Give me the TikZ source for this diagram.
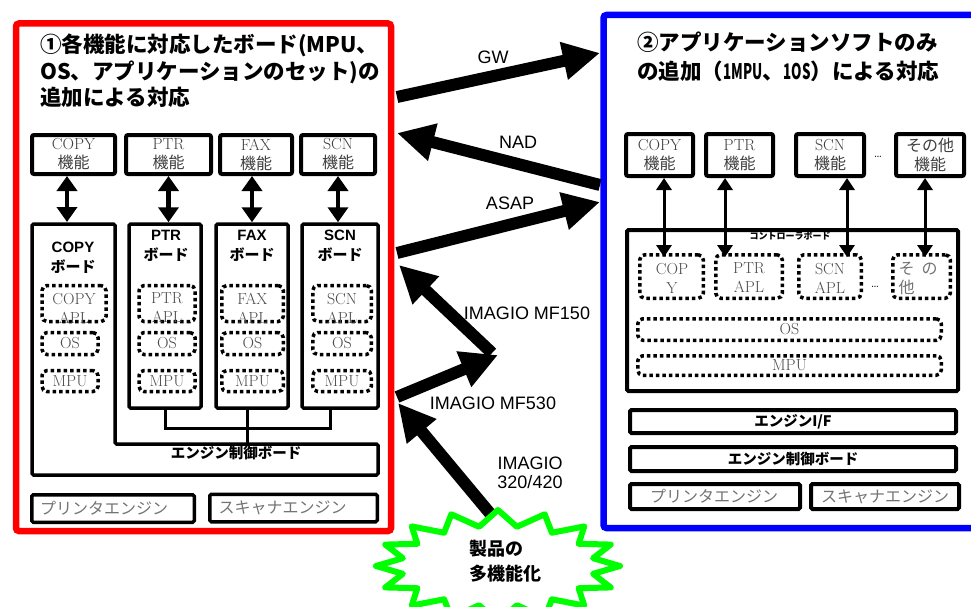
\documentclass[tikz,border=0pt]{standalone}
\usepackage{fontspec}
\usetikzlibrary{arrows.meta,calc}
\newfontfamily\cjk{Noto Sans CJK JP}
\newfontfamily\arial{Liberation Sans}
\definecolor{pred}{RGB}{255,0,0}
\definecolor{pblue}{RGB}{0,0,255}
\definecolor{pgreen}{RGB}{0,255,0}
\newcommand{\hw}[1]{\scalebox{0.62}[1]{#1}}
\tikzset{
  title/.style={inner sep=0pt, anchor=base west, font={\cjk\bfseries\fontsize{21.5}{26}\selectfont}},
  fbox/.style={draw, line width=4pt, rounded corners=2pt, fill=white, inner sep=0pt, align=center,
    text=black!75, font={\fontsize{16}{19}\selectfont}},
  board/.style={draw, line width=3.5pt, rounded corners=1.5pt, inner sep=0pt},
  dotbox/.style={draw, line width=3.5pt, dash pattern=on 3.5pt off 3pt, rounded corners=5pt, inner sep=0pt,
    text=black!70, font={\fontsize{16}{19}\selectfont}},
  sertext/.style={inner sep=0pt, align=center, text=black!70, font={\fontsize{16}{19}\selectfont}},
  engtext/.style={inner sep=0pt, text=black!55, font={\cjk\fontsize{16}{19}\selectfont}},
  blabel/.style={inner sep=0pt, align=center, font={\arial\bfseries\fontsize{15}{20}\selectfont}},
  cjkbold/.style={inner sep=0pt, font={\cjk\bfseries\fontsize{14.5}{18}\selectfont}},
  alabel/.style={inner sep=0pt, align=center, font={\arial\fontsize{18}{19}\selectfont}},
  bigarrow/.style={line width=12pt, -{Triangle[length=37pt,width=36pt]}},
  ldbl/.style={line width=4.5pt, {Triangle[length=15pt,width=20pt]}-{Triangle[length=15pt,width=20pt]}},
  rdbl/.style={line width=3pt, {Triangle[length=12pt,width=15pt]}-{Triangle[length=12pt,width=15pt]}},
  conn/.style={line width=3pt},
}
\begin{document}
\begin{tikzpicture}[x=1pt,y=-1pt]
\useasboundingbox (0,0) rectangle (971,607);
\clip (0,0) rectangle (971,607);

% ---------- panels
\node[draw=pred, line width=6.5pt, rounded corners=3pt, minimum width=375pt, minimum height=507.5pt, inner sep=0pt] (redp) at (203.5,277.25) {};
\node[draw=pblue, line width=6.5pt, rounded corners=3pt, minimum width=400pt, minimum height=513pt, inner sep=0pt] (bluep) at (803.5,271.5) {};

% ---------- left titles
\node[title] (t1a) at (40,53) {①各機能に対応したボード(MPU、};
\node[title] (t1b) at (40,80) {OS、アプリケーションのセット)の};
\node[title] (t1c) at (40,106) {追加による対応};

% ---------- left function boxes
\node[fbox, minimum width=83pt, minimum height=39pt] (copyf) at (73.5,154.5) {COPY\\{\cjk 機能}};
\node[fbox, minimum width=85pt, minimum height=39pt] (ptrf) at (168.5,154.5) {PTR\\{\cjk 機能}};
\node[fbox, minimum width=72pt, minimum height=39pt] (faxf) at (256,154.5) {FAX\\{\cjk 機能}};
\node[fbox, minimum width=74pt, minimum height=39pt] (scnf) at (338,154.5) {SCN\\{\cjk 機能}};

% ---------- left boards
\draw[board] (32,224) -- (115,224) -- (115,444) -- (378,444) -- (378,475) -- (32,475) -- cycle;
\coordinate (copybn) at (67,222);
\node[blabel] (copyl) at (73,258) {COPY\\{\cjk ボード}};
\node[cjkbold] (engl) at (236,453) {エンジン制御ボード};

\node[board, minimum width=72pt, minimum height=184pt] (ptrb) at (165,316) {};
\node[board, minimum width=72pt, minimum height=184pt] (faxb) at (252,316) {};
\node[board, minimum width=76pt, minimum height=184pt] (scnb) at (340,316) {};
\node[blabel] (ptrl) at (166,246) {PTR\\{\cjk ボード}};
\node[blabel] (faxl) at (252,246) {FAX\\{\cjk ボード}};
\node[blabel] (scnl) at (340,246) {SCN\\{\cjk ボード}};

% dotted boxes (left)
\node[dotbox, minimum width=64pt, minimum height=36pt] (copyapl) at (74,303.5) {};
\node[sertext] (copyaplt) at (74,308) {COPY\\APL};
\node[dotbox, minimum width=56pt, minimum height=22pt] (copyos) at (70,343.5) {OS};
\node[dotbox, minimum width=56pt, minimum height=21pt] (copympu) at (70,381) {MPU};

\node[dotbox, minimum width=56pt, minimum height=36pt] (ptrapl) at (167,303.5) {};
\node[sertext] (ptraplt) at (167,308) {PTR\\APL};
\node[dotbox, minimum width=56pt, minimum height=22pt] (ptros) at (167,343.5) {OS};
\node[dotbox, minimum width=56pt, minimum height=21pt] (ptrmpu) at (167,381) {MPU};

\node[dotbox, minimum width=61.5pt, minimum height=36pt] (faxapl) at (252.5,303.5) {};
\node[sertext] (faxaplt) at (252.5,308) {FAX\\APL};
\node[dotbox, minimum width=61.5pt, minimum height=22pt] (faxos) at (252.5,343.5) {OS};
\node[dotbox, minimum width=61.5pt, minimum height=21pt] (faxmpu) at (252.5,381) {MPU};

\node[dotbox, minimum width=58.5pt, minimum height=36pt] (scnapl) at (342,303.5) {};
\node[sertext] (scnaplt) at (342,308) {SCN\\APL};
\node[dotbox, minimum width=58.5pt, minimum height=22pt] (scnos) at (342,343.5) {OS};
\node[dotbox, minimum width=58.5pt, minimum height=21pt] (scnmpu) at (342,381) {MPU};

% connectors to engine board
\coordinate (busL) at (165,428);
\coordinate (busR) at (330,428);
\draw[conn] (ptrb.south) -- (busL) -- (busR) -- (busR |- scnb.south);
\coordinate (faxdrop) at (247,444);
\draw[conn] (faxdrop |- faxb.south) -- (faxdrop);

% double arrows (left)
\draw[ldbl] (copyf.south -| copybn) -- (copybn);
\draw[ldbl] (ptrf.south) -- (ptrf.south |- ptrb.north);
\draw[ldbl] (faxb.north |- faxf.south) -- (faxb.north);
\draw[ldbl] (scnf.south) -- (scnf.south |- scnb.north);

% engines (left)
\node[board, minimum width=162.5pt, minimum height=27.5pt] (prtengL) at (113,508.5) {};
\node[engtext] (prtengLt) at (104,508.5) {プリンタエンジン};
\node[board, minimum width=167.5pt, minimum height=27.5pt] (scnengL) at (293.5,508) {};
\node[engtext] (scnengLt) at (282.5,508) {スキャナエンジン};

% ---------- right titles
\node[title] (t2a) at (637,51) {②アプリケーションソフトのみ};
\node[title] (t2b) at (637,80) {の追加（\hw{1MPU}、\hw{1OS}）による対応};

% right function boxes
\node[fbox, minimum width=67pt, minimum height=42pt] (copyF) at (659.5,155) {COPY\\{\cjk 機能}};
\node[fbox, minimum width=67pt, minimum height=42pt] (ptrF) at (739.5,155) {PTR\\{\cjk 機能}};
\node[fbox, minimum width=68pt, minimum height=42pt] (scnF) at (830,155) {SCN\\{\cjk 機能}};
\node[fbox, minimum width=68pt, minimum height=42pt] (othF) at (930,155) {{\cjk その他}\\{\cjk 機能}};
\node[inner sep=0pt, font=\fontsize{13}{14}\selectfont] (dotsF) at (878,157) {\ldots};

% controller board
\node[board, line width=4pt, minimum width=331pt, minimum height=161pt] (ctrl) at (792.5,310.5) {};
\node[inner sep=0pt, font={\cjk\bfseries\fontsize{9}{10}\selectfont}] (ctrll) at (790,235.5) {コントローラボード};

\node[dotbox, minimum width=63.5pt, minimum height=43.5pt] (copyD) at (671.5,276.5) {};
\node[sertext] (copyDt) at (672,278) {COP\\Y};
\node[dotbox, minimum width=66.5pt, minimum height=43.5pt] (ptrD) at (749,276.5) {};
\node[sertext] (ptrDt) at (749,278) {PTR\\APL};
\node[dotbox, minimum width=62.5pt, minimum height=43.5pt] (scnD) at (830,276.5) {};
\node[sertext] (scnDt) at (830,278) {SCN\\APL};
\node[inner sep=0pt, font=\fontsize{13}{14}\selectfont] (dotsD) at (875,287) {\ldots};
\node[dotbox, minimum width=57.5pt, minimum height=43.5pt] (othD) at (921.5,276.5) {};
\node[sertext, align=left, text=black!55, font={\cjk\fontsize{16}{19}\selectfont}] (othDt) at (918,278) {そ\hspace{7pt}の\\他};

\node[dotbox, minimum width=303.5pt, minimum height=21.5pt] (osD) at (789.5,329.5) {OS};
\node[dotbox, minimum width=303.5pt, minimum height=19.5pt] (mpuD) at (789.5,365.5) {MPU};

% right double arrows
\draw[rdbl] ($(copyF.south)+(4.5,0)$) -- ($(copyF.south |- copyD.north)+(4.5,4)$);
\draw[rdbl] ($(ptrF.south)+(-14.5,0)$) -- ($(ptrF.south |- ptrD.north)+(-14.5,4)$);
\draw[rdbl] ($(scnF.south)+(17,0)$) -- ($(scnF.south |- scnD.north)+(17,4)$);
\draw[rdbl] ($(othF.south)+(-5,0)$) -- ($(othF.south |- othD.north)+(-5,4)$);

% engine parts (right)
\node[board, line width=4pt, minimum width=326pt, minimum height=23pt] (engif) at (793,421.5) {};
\node[cjkbold] (engift) at (793,421.5) {エンジンI/F};
\node[board, line width=4pt, minimum width=326pt, minimum height=24pt] (engR) at (793,459) {};
\node[cjkbold] (engRt) at (793,459) {エンジン制御ボード};
\node[board, line width=4pt, minimum width=170pt, minimum height=25pt] (prtengR) at (715,496.5) {};
\node[engtext] (prtengRt) at (714,496.5) {プリンタエンジン};
\node[board, line width=4pt, minimum width=148pt, minimum height=25pt] (scnengR) at (885,496.5) {};
\node[engtext] (scnengRt) at (885,496.5) {スキャナエンジン};

% ---------- big arrows
\coordinate (gwS) at (397,97);   \coordinate (gwE) at (600,53);
\coordinate (nadS) at (600,185); \coordinate (nadE) at (397,133);
\coordinate (asS) at (397,253);  \coordinate (asE) at (600,202);
\coordinate (m530S) at (397,397); \coordinate (vtx) at (498,355);
\coordinate (m150E) at (399,265);
\coordinate (b320S) at (493,517); \coordinate (b320E) at (398,403);
\draw[bigarrow] (gwS) -- (gwE);
\draw[bigarrow] (nadS) -- (nadE);
\draw[bigarrow] (asS) -- (asE);
\draw[bigarrow] (m530S) -- (vtx);
\draw[bigarrow] ($(vtx)+(-6,-2)$) -- (m150E);
\draw[bigarrow] (b320S) -- (b320E);

\node[alabel] (gwl) at (493,57) {GW};
\node[alabel] (nadl) at (518,142) {NAD};
\node[alabel] (asl) at (510,203) {ASAP};
\node[alabel] (m150l) at (527,313) {IMAGIO MF150};
\node[alabel] (m530l) at (493,403) {IMAGIO MF530};
\node[alabel] (m320l) at (530,473) {IMAGIO\\320/420};

% ---------- burst
\draw[pgreen, line width=6pt, fill=white, line join=round]
  ({498+122*cos(0)},{566+56*sin(0)})
  \foreach \i in {1,...,16} {
    -- ({498+97*cos((\i-0.5)*22.5)},{566+40*sin((\i-0.5)*22.5)})
    -- ({498+122*cos(\i*22.5)},{566+56*sin(\i*22.5)})
  } -- cycle;
\node[inner sep=0pt, align=left, font={\cjk\bfseries\fontsize{18}{25}\selectfont}] (burstt) at (505,561) {製品の\\多機能化};
\end{tikzpicture}
\end{document}
